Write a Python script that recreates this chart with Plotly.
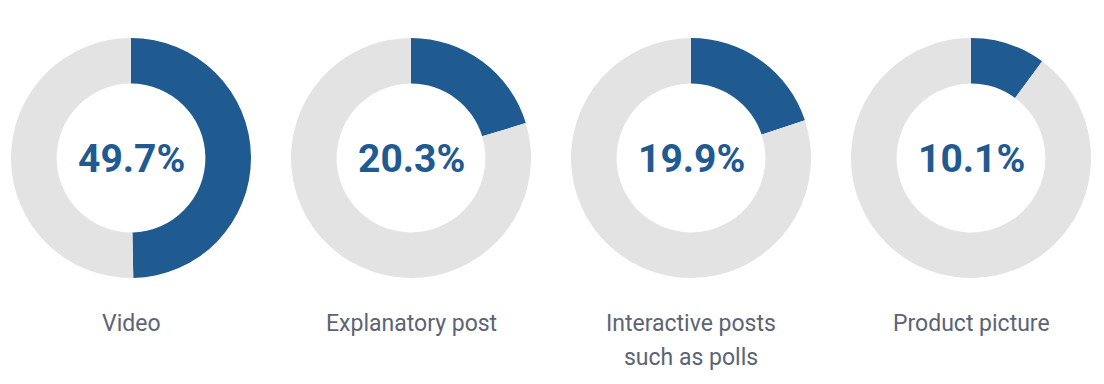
import plotly.graph_objects as go

categories = ["Video", "Explanatory post", "Interactive posts<br>such as polls", "Product picture"]
shares = [49.7, 20.3, 19.9, 10.1]
value_labels = ["49.7%", "20.3%", "19.9%", "10.1%"]

# page body has an 8px margin; figure is sized to fill the rest of the window
OFF = 8
W, H = 1104 - OFF, 384 - OFF
centers_x = [131 - OFF, 411 - OFF, 691 - OFF, 971 - OFF]
center_y = 158 - OFF
radius = 120

BLUE = "#1f5a91"
GREY = "#e3e3e3"

fig = go.Figure()
for i, (cat, v, lab) in enumerate(zip(categories, shares, value_labels)):
    cx = centers_x[i]
    fig.add_trace(go.Pie(
        values=[v, 100 - v],
        sort=False,
        direction="clockwise",
        rotation=0,
        hole=0.62,
        marker=dict(colors=[BLUE, GREY], line=dict(width=0)),
        textinfo="none",
        hoverinfo="skip",
        showlegend=False,
        domain=dict(x=[(cx - radius) / W, (cx + radius) / W],
                    y=[(H - center_y - radius) / H, (H - center_y + radius) / H]),
    ))
    fig.add_annotation(
        x=cx / W, y=(H - (center_y + 1)) / H, xref="paper", yref="paper",
        text=f"<b>{lab}</b>", showarrow=False,
        font=dict(family="Roboto", size=39, color=BLUE),
        xanchor="center", yanchor="middle",
    )
    for j, line in enumerate(cat.split("<br>")):
        fig.add_annotation(
            x=cx / W, y=(H - (323 - OFF + 34 * j)) / H, xref="paper", yref="paper",
            text=line, showarrow=False,
            font=dict(family="Roboto", size=23, color="#5b6474"),
            xanchor="center", yanchor="middle", align="center",
        )

fig.update_layout(
    width=W, height=H,
    margin=dict(l=0, r=0, t=0, b=0),
    paper_bgcolor="white", plot_bgcolor="white",
)
fig.write_html("out.html")
